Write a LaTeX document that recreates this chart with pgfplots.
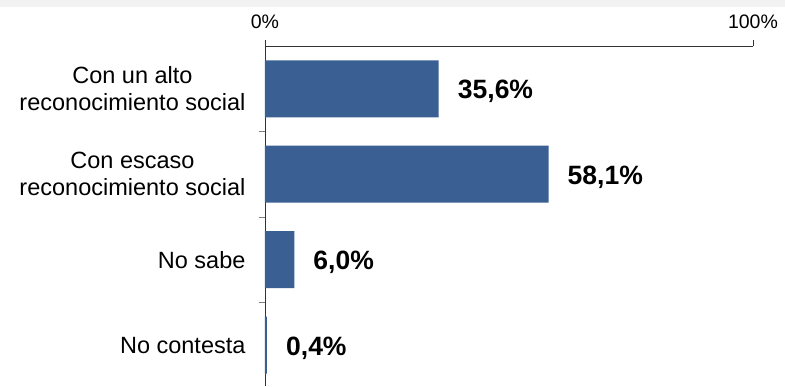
\documentclass[border=0pt]{standalone}
\usepackage{pgfplots}
\pgfplotsset{compat=1.18}
\usepackage{fontspec}
\setmainfont{Liberation Sans}
\definecolor{barblue}{RGB}{58,95,146}
\definecolor{bandgray}{RGB}{242,242,242}
\begin{document}
\begin{tikzpicture}[x=1pt,y=1pt]
\useasboundingbox (0,0) rectangle (785,-386);
\fill[bandgray] (0,0) rectangle (785,-7);
\begin{axis}[
  at={(265pt,-46pt)}, anchor=north west,
  scale only axis, width=488pt, height=340pt,
  xmin=0, xmax=100,
  ymin=-0.5, ymax=3.477,
  y dir=reverse,
  xbar, bar width=57pt,
  axis x line*=top, axis y line*=left,
  axis line style={black!80, line width=0.9pt},
  xtick={0,100}, xticklabels={0\%,100\%},
  x tick label style={font=\fontsize{19.5}{22}\selectfont, text=black},
  xticklabel shift=14pt,
  ytick={0,1,2,3},
  yticklabels={{Con un alto\\reconocimiento social},{Con escaso\\reconocimiento social},No sabe,No contesta},
  y tick label style={font=\fontsize{23.5}{27}\selectfont, align=center, text=black},
  yticklabel shift=16pt,
  major tick length=0pt,
  minor ytick={0.5,1.5,2.5},
  minor tick length=6pt,
  tick align=outside,
  minor tick style={gray, line width=0.9pt},
  extra x ticks={0,100}, extra x tick labels={},
  extra x tick style={major tick length=6pt, tick style={black!80, line width=0.9pt}},
  clip=false,
  nodes near coords={\pgfmathprintnumber[fixed,fixed zerofill,precision=1,use comma,assume math mode=true]{\pgfplotspointmeta}\%},
  nodes near coords style={font=\fontsize{26.5}{30}\selectfont\bfseries, anchor=west, inner sep=0pt, xshift=19pt, yshift=-3pt, text=black},
]
\addplot[fill=barblue, draw=none] coordinates {(35.6,0) (58.1,1) (6.0,2) (0.4,3)};
\end{axis}
\end{tikzpicture}
\end{document}
